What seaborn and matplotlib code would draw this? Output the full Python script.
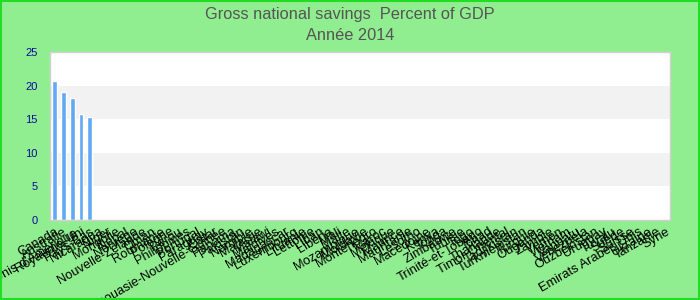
import matplotlib
matplotlib.use("Agg")
import matplotlib.pyplot as plt
import seaborn as sns
import numpy as np
import pandas as pd
from matplotlib.patches import Rectangle

countries = [
    "Canada", "Australie", "États-Unis d'Amérique", "Royaume-Uni", "Pays-Bas",
    "Nicaragua", "Niger", "Mongolie", "Népal", "Norvège",
    "Nouvelle-Zélande", "Oman", "Roumanie", "Pologne", "Pérou",
    "Philippines", "Portugal", "Paraguay", "Qatar", "Papouasie-Nouvelle-Guinée",
    "Panama", "Pakistan", "Namibie", "Malaisie", "Malawi",
    "Maldives", "Madagascar", "Luxembourg", "Lituanie", "Lettonie",
    "Liban", "Libéria", "Mali", "Malte", "Mozambique",
    "Moldavie", "Monténégro", "Maroc", "Mexique", "Maurice",
    "Mauritanie", "Lesotho", "Macédoine", "Kenya", "Tonga",
    "Zimbabwe", "Tunisie", "Togo", "Trinité-et-Tobago", "Tchad",
    "Thaïlande", "Timor Oriental", "Tadjikistan", "Turkménistan", "Turquie",
    "Ouganda", "Zambie", "Yémen", "Vietnam", "Vanuatu",
    "Venezuela", "Ouzbékistan", "Uruguay", "Tuvalu", "Suède",
    "Suisse", "Emirats Arabes Unis", "Ukraine", "Tanzanie", "Syrie",
]
values = [20.7, 19.05, 18.15, 15.8, 15.3] + [np.nan] * (len(countries) - 5)
y_ticks = [0, 5, 10, 15, 20, 25]

title = "Gross national savings  Percent of GDP"
subtitle = "Année 2014"

df = pd.DataFrame({"pays": countries, "val": values})

sns.set_theme(style="white")
plt.rcParams["font.family"] = ["Liberation Sans", "DejaVu Sans"]

fig = plt.figure(figsize=(7, 3), dpi=100, facecolor="#90EE90")
ax = fig.add_axes([50 / 700, 1 - 220 / 300, 620 / 700, 168 / 300])
ax.set_facecolor("white")

for lo in (5, 15):
    ax.axhspan(lo, lo + 5, color="#F2F2F2", zorder=0, lw=0)

sns.barplot(data=df, x="pays", y="val", order=countries, color="#63A8F2",
            saturation=1, width=0.55, errorbar=None, ax=ax, zorder=2)

ax.set_ylim(0, 25)
ax.set_xlim(-0.5, len(countries) - 0.5)
ax.set_yticks(y_ticks)
ax.set_yticklabels([str(t) for t in y_ticks], color="#0A0AA0", fontsize=8)
ax.tick_params(axis="y", length=0, pad=9)
ax.tick_params(axis="x", length=0, pad=4)
ax.set_xticks(range(len(countries)))
ax.set_xticklabels(countries, rotation=30, ha="right", rotation_mode="anchor",
                   fontsize=9.3, color="black")
ax.set_xlabel("")
ax.set_ylabel("")
ax.grid(False)
for s in ax.spines.values():
    s.set_color("#D0D0D0")
    s.set_linewidth(1)

tf = ["Liberation Sans Narrow", "Liberation Sans", "DejaVu Sans"]
fig.text(0.5, 1 - 14 / 300, title, ha="center", va="center", fontsize=11.8,
         color="#555555", family=tf)
fig.text(0.5, 1 - 36 / 300, subtitle, ha="center", va="center", fontsize=11.8,
         color="#555555", family=tf)

fig.patches.append(Rectangle((0.001, 0.002), 0.997, 0.995, transform=fig.transFigure,
                             fill=False, edgecolor="#22DD22", linewidth=1.5))

fig.savefig("out.png", dpi=100, facecolor=fig.get_facecolor())
